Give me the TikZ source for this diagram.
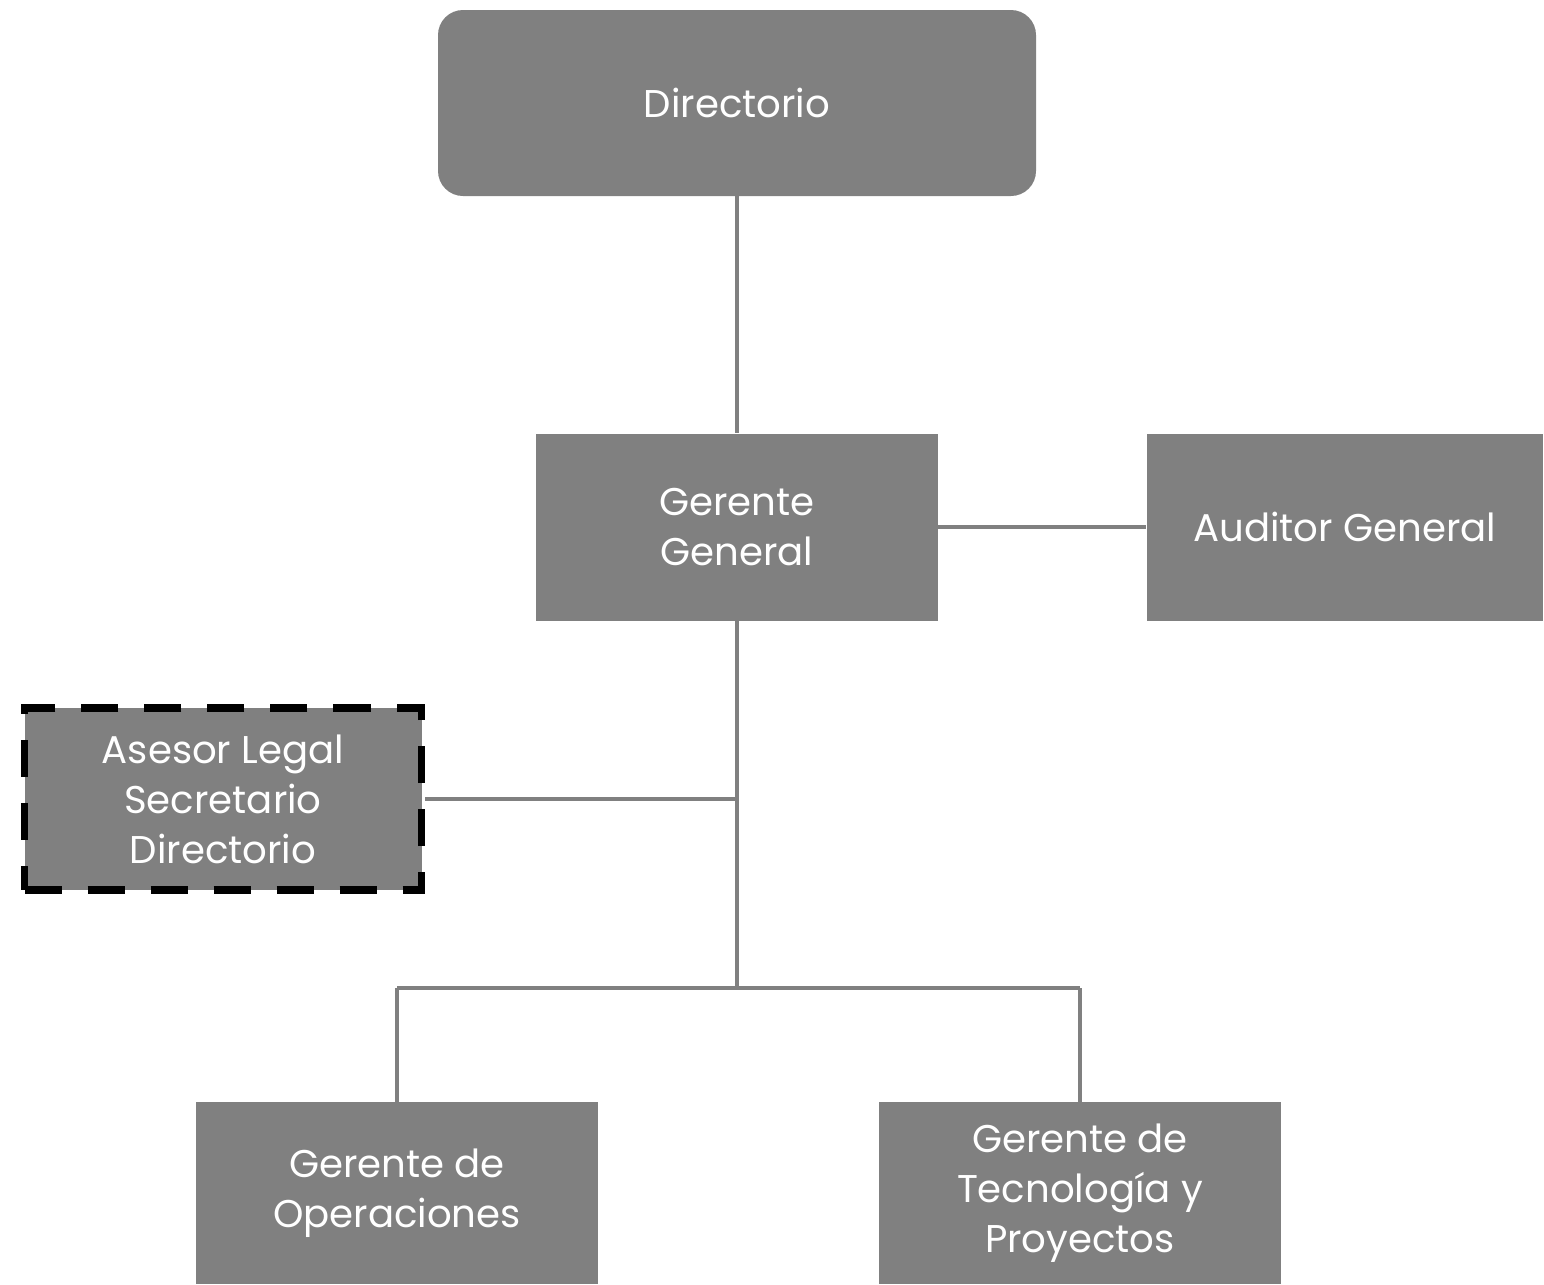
\documentclass[tikz,border=0pt]{standalone}
\usepackage{fontspec}
\setmainfont{Poppins}
\usetikzlibrary{positioning, calc}
\definecolor{boxgray}{HTML}{808080}
\tikzset{
  orgbox/.style={
	rectangle, fill=boxgray, % plain grey boxes
	text=white, align=center,
	font=\fontsize{22}{28.5}\selectfont,
	minimum width=8.04cm, minimum height=3.74cm,
	inner sep=0pt,
  },
  advisor/.style={
	orgbox, draw=black, line width=4.5pt, % dashed frame for the staff box
	dash pattern=on 0.74cm off 0.52cm,
	minimum width=7.94cm, minimum height=3.64cm,
  },
  link/.style={draw=boxgray, line width=2.3pt},
}
\begin{document}
\begin{tikzpicture}
	  \useasboundingbox (0,0) rectangle (30.88,-25.68);
	  \node[orgbox, rounded corners=0.5cm, minimum width=11.96cm, minimum height=3.72cm] (dir) at (14.74,-2.06) {Directorio};
	  \node[orgbox, below=4.74cm of dir] (gg) {Gerente\\General};
	  \node[orgbox, right=4.16cm of gg, minimum width=7.92cm] (aud) {Auditor General};
	  \node[advisor] (ase) at (4.46,-15.98) {Asesor Legal\\Secretario\\Directorio};
	  \node[orgbox, minimum height=3.64cm] (ops) at (7.94,-23.86) {Gerente de\\Operaciones};
	  \node[orgbox, minimum height=3.64cm] (tec) at (21.6,-23.86) {Gerente de\\Tecnología y\\Proyectos};
	  \coordinate (split) at ($(gg.south)+(0,-7.34)$);

	  \draw[link] (dir) -- (gg)
		  (gg) -- (aud)
		  (gg.south) -- (split)
		  (ase.east) -- (ase.east -| gg.south)
		  (split -| ops.north) -- (split -| tec.north)
		  (split -| ops.north) -- (ops.north)
		  (split -| tec.north) -- (tec.north)
	  ;
	  \end{tikzpicture}
\end{document}
